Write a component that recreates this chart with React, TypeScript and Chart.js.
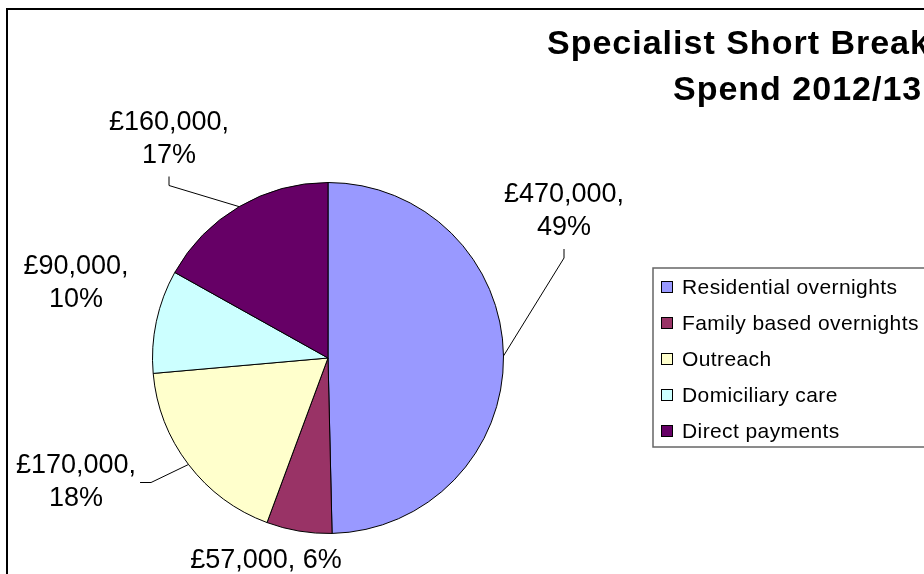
import React, { useEffect, useRef } from "react";
import { Chart, registerables } from "chart.js";

Chart.register(...registerables);

// ---- data ----
const categories = [
  "Residential overnights",
  "Family based overnights",
  "Outreach",
  "Domiciliary care",
  "Direct payments",
];
const spend = [470000, 57000, 170000, 90000, 160000];
const shareLabels = ["49%", "6%", "18%", "10%", "17%"];
const sliceColors = ["#9999FF", "#993366", "#FFFFCC", "#CCFFFF", "#660066"];
const titleLines = ["Specialist Short Breaks", "Spend 2012/13"];
// label lines: value + percent, split into lines as in the original
const labelLines = spend.map((v, i) =>
  i === 1
    ? ["£" + v.toLocaleString("en-GB") + ", " + shareLabels[i]]
    : ["£" + v.toLocaleString("en-GB") + ",", shareLabels[i]]
);
// label block centre offsets from the pie centre (layout)
const labelDx = [236, -62, -252, -252, -159];
const labelDy = [-146.5, 203, 124.5, -75, -219];

const FONT = "'Liberation Sans', Arial, sans-serif";

const decorPlugin = {
  id: "decor",
  beforeDraw(chart: any) {
    const ctx = chart.ctx;
    ctx.save();
    ctx.fillStyle = "#ffffff";
    ctx.fillRect(0, 0, chart.width, chart.height);
    // chart frame
    ctx.fillStyle = "#000000";
    ctx.fillRect(6, 8, 2, chart.height);
    ctx.fillRect(6, 8, chart.width, 2);
    ctx.restore();
  },
  afterDatasetsDraw(chart: any) {
    const ctx = chart.ctx;
    const meta = chart.getDatasetMeta(0);
    ctx.save();

    // ---- title ----
    ctx.fillStyle = "#000";
    ctx.font = `bold 34px ${FONT}`;
    ctx.textAlign = "left";
    ctx.textBaseline = "alphabetic";
    (ctx as any).letterSpacing = "1px";
    ctx.fillText(titleLines[0], 547, 54);
    ctx.fillText(titleLines[1], 673, 100);
    (ctx as any).letterSpacing = "0px";

    // ---- data labels + leader lines ----
    const lineH = 33;
    ctx.font = `27px ${FONT}`;
    ctx.textAlign = "center";
    ctx.textBaseline = "middle";
    meta.data.forEach((arc: any, i: number) => {
      const p = arc.getProps(["x", "y", "startAngle", "endAngle", "outerRadius"], true);
      const mid = (p.startAngle + p.endAngle) / 2;
      const ex = p.x + p.outerRadius * Math.cos(mid);
      const ey = p.y + p.outerRadius * Math.sin(mid);
      const cx = p.x + labelDx[i];
      const cy = p.y + labelDy[i];
      const lines = labelLines[i];
      const n = lines.length;
      const firstY = cy - ((n - 1) * lineH) / 2;
      let maxW = 0;
      lines.forEach((t: string, k: number) => {
        ctx.fillStyle = "#000";
        ctx.fillText(t, cx, firstY + k * lineH);
        maxW = Math.max(maxW, ctx.measureText(t).width);
      });
      const top = firstY - 13;
      const bottom = firstY + (n - 1) * lineH + 13;
      const left = cx - maxW / 2;
      const right = cx + maxW / 2;
      const dx = Math.max(left - ex, 0, ex - right);
      const dy = Math.max(top - ey, 0, ey - bottom);
      if (Math.hypot(dx, dy) < 30) return;
      ctx.strokeStyle = "#000";
      ctx.lineWidth = 1;
      ctx.beginPath();
      if (Math.abs(ey - cy) < 50) {
        if (ex > right) {
          ctx.moveTo(right + 4, cy);
          ctx.lineTo(right + 15, cy);
        } else {
          ctx.moveTo(left - 4, cy);
          ctx.lineTo(left - 15, cy);
        }
      } else if (ey > bottom) {
        ctx.moveTo(cx, bottom + 8);
        ctx.lineTo(cx, bottom + 17);
      } else {
        ctx.moveTo(cx, top - 8);
        ctx.lineTo(cx, top - 17);
      }
      ctx.lineTo(ex, ey);
      ctx.stroke();
    });

    // ---- legend ----
    const lgLeft = 653;
    const lgTop = 268;
    const lgBottom = 447;
    ctx.strokeStyle = "#666";
    ctx.lineWidth = 1.5;
    ctx.strokeRect(lgLeft, lgTop, 400, lgBottom - lgTop);
    ctx.font = `21px ${FONT}`;
    ctx.textAlign = "left";
    ctx.textBaseline = "middle";
    (ctx as any).letterSpacing = "0.4px";
    const rowH = 36;
    categories.forEach((c, i) => {
      const y = lgTop + 19 + i * rowH;
      ctx.fillStyle = sliceColors[i];
      ctx.fillRect(661, y - 6, 12, 12);
      ctx.strokeStyle = "#000";
      ctx.lineWidth = 1;
      ctx.strokeRect(661.5, y - 5.5, 11, 11);
      ctx.fillStyle = "#000";
      ctx.fillText(c, 682, y + 1);
    });
    (ctx as any).letterSpacing = "0px";

    ctx.restore();
  },
};

export default function App() {
  const ref = useRef<HTMLCanvasElement | null>(null);
  useEffect(() => {
    if (!ref.current) return;
    const chart = new Chart(ref.current, {
      type: "pie",
      data: {
        labels: categories,
        datasets: [
          {
            data: spend,
            backgroundColor: sliceColors,
            borderColor: "#000000",
            borderWidth: 1,
          },
        ],
      },
      options: {
        animation: false,
        responsive: false,
        events: [],
        layout: { padding: { left: 152, top: 182, right: 420, bottom: 40 } },
        plugins: {
          legend: { display: false },
          title: { display: false },
          tooltip: { enabled: false },
        },
      },
      plugins: [decorPlugin],
    });
    return () => chart.destroy();
  }, []);
  return (
    <div
      style={{
        position: "fixed",
        left: 0,
        top: 0,
        width: 924,
        height: 574,
        overflow: "hidden",
        background: "#fff",
      }}
    >
      <canvas ref={ref} width={924} height={574} style={{ display: "block" }} />
    </div>
  );
}
